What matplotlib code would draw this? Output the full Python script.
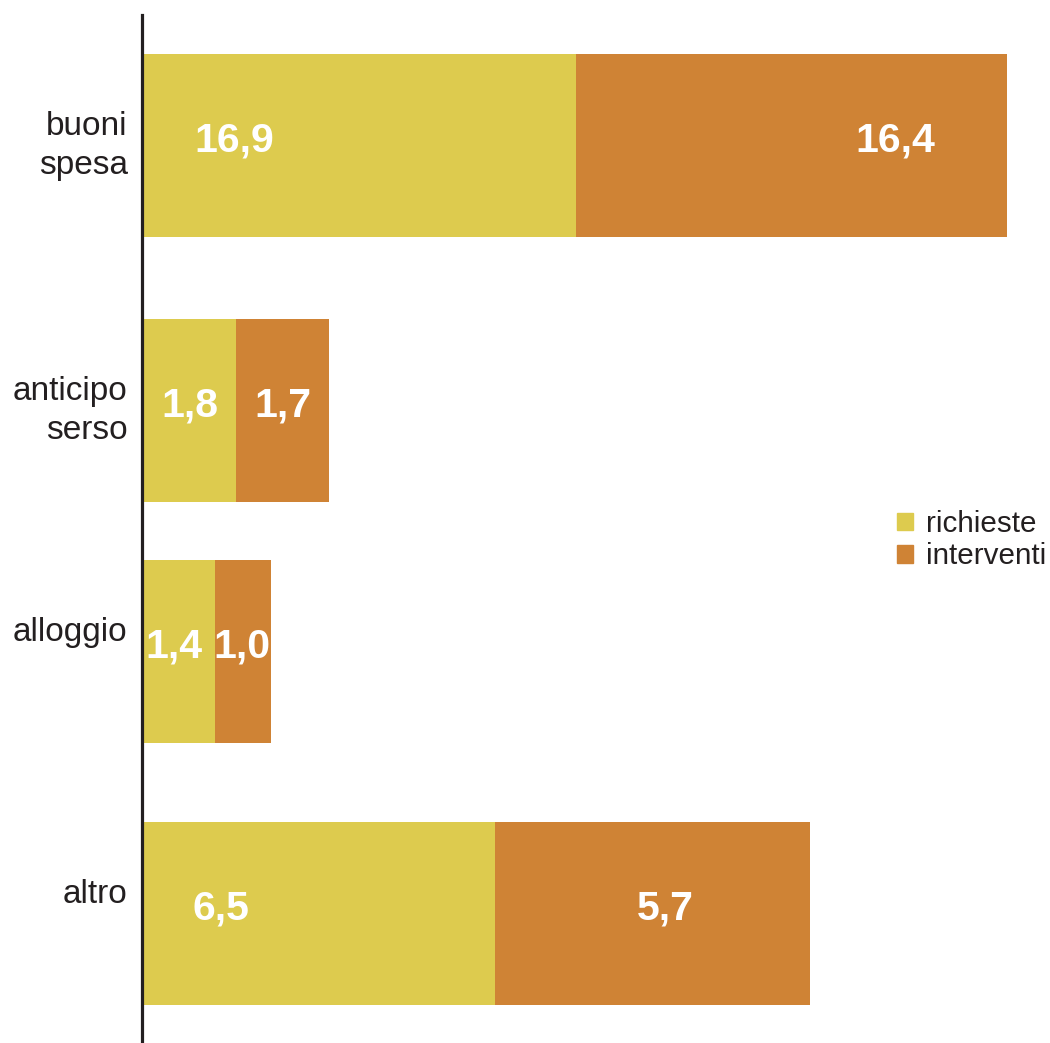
import matplotlib.pyplot as plt
from matplotlib.patches import Patch

plt.rcParams['font.family'] = ['Liberation Sans', 'DejaVu Sans']

# categories, top to bottom (single-line labels sit on the first line slot)
categories = ["buoni\nspesa", "anticipo\nserso", "alloggio\n ", "altro\n "]

# printed values
richieste_lbl = [16.9, 1.8, 1.4, 6.5]
interventi_lbl = [16.4, 1.7, 1.0, 5.7]

# segment lengths as drawn in the picture (not proportional to printed values)
richieste_len = [16.9, 3.63, 2.81, 13.75]
interventi_len = [16.85, 3.63, 2.19, 12.3]

# where the number sits inside each segment (fraction of its length)
richieste_pos = [0.21, 0.5, 0.43, 0.22]
interventi_pos = [0.74, 0.5, 0.48, 0.54]

YELLOW = "#DDCB4E"
ORANGE = "#CF8335"

W, H = 1050, 1043
fig = plt.figure(figsize=(W / 100, H / 100), dpi=100)
ax = fig.add_axes([141.5 / W, 0, 1 - 141.5 / W, (H - 15) / H])

ypos = [145.5, 410.5, 651.5, 913.5]   # bar centres (px from top)
ax.set_ylim(H, 15)
ax.set_xlim(-0.06, (W - 141.5) / 25.6 - 0.06)

ax.barh(ypos, richieste_len, height=183, color=YELLOW, label="richieste")
ax.barh(ypos, interventi_len, left=richieste_len, height=183, color=ORANGE,
        label="interventi")

fmt = lambda v: f"{v:.1f}".replace(".", ",")
for y, a, b, la, lb, pa, pb in zip(ypos, richieste_len, interventi_len,
                                   richieste_lbl, interventi_lbl,
                                   richieste_pos, interventi_pos):
    ax.text(a * pa, y - 5, fmt(la), color="white", fontsize=29.5,
            fontweight="bold", ha="center", va="center")
    ax.text(a + b * pb, y - 5, fmt(lb), color="white", fontsize=29.5,
            fontweight="bold", ha="center", va="center")

ax.set_yticks([y - 7 for y in ypos])
ax.set_yticklabels(categories, fontsize=24, color="#231f20",
                   linespacing=1.33)
ax.tick_params(axis="y", length=0, pad=10)
ax.set_xticks([])
for s in ["top", "right", "bottom"]:
    ax.spines[s].set_visible(False)
ax.spines["left"].set_linewidth(2.3)
ax.spines["left"].set_color("#231f20")

handles = [Patch(color=YELLOW, label="richieste"),
           Patch(color=ORANGE, label="interventi")]
fig.legend(handles=handles, loc="center left",
           bbox_to_anchor=(882 / W, 1 - 540 / H), frameon=False,
           fontsize=21.3, handlelength=0.55, handleheight=0.55,
           handletextpad=0.45, labelspacing=0.14, borderpad=0,
           labelcolor="#231f20")

fig.savefig("out.png", dpi=100)
